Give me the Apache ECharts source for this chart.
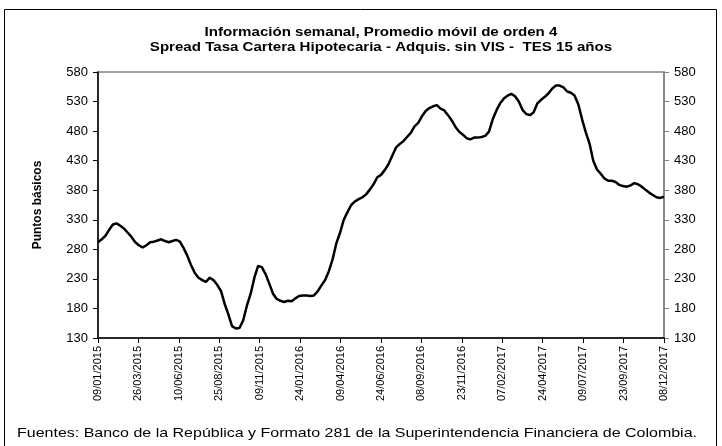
<!DOCTYPE html>
<html>
<head>
<meta charset="utf-8">
<script src="https://cdn.jsdelivr.net/npm/echarts@6/dist/echarts.min.js"></script>
<style>
  html, body { margin: 0; padding: 0; background: #fff; }
  #chart { width: 722px; height: 446px; }
</style>
</head>
<body>
<div id="chart"></div>
<script>
// --- datos (semanales desde 09/01/2015) ---
const startDate = '09/01/2015';
const tickLabels = [
  '09/01/2015', '26/03/2015', '10/06/2015', '25/08/2015', '09/11/2015',
  '24/01/2016', '09/04/2016', '24/06/2016', '08/09/2016', '23/11/2016',
  '07/02/2017', '24/04/2017', '09/07/2017', '23/09/2017', '08/12/2017'
];
const tickStepDays = 76;
const yTicks = [130, 180, 230, 280, 330, 380, 430, 480, 530, 580];

// spread promedio móvil de orden 4 (puntos básicos), una cifra por semana
const spread = [
  292, 297, 303, 313, 322, 324, 320, 315, 308, 301,
  292, 287, 283, 287, 292, 293, 295, 297, 294, 292,
  294, 296, 293, 282, 269, 253, 240, 232, 228, 225,
  232, 228, 220, 210, 188, 170, 150, 146, 147, 160,
  185, 205, 232, 252, 250, 238, 222, 205, 196, 193,
  191, 193, 192, 197, 201, 202, 202, 201, 202, 209,
  219, 228, 243, 263, 290, 308, 330, 343, 355, 361,
  365, 368, 373, 381, 390, 402, 406, 414, 424, 438,
  452, 458, 463, 470, 477, 488, 494, 505, 514, 519,
  522, 524, 518, 515, 507, 498, 487, 479, 474, 468,
  466, 469, 469, 470, 472, 479, 500, 515, 527, 535,
  540, 543, 539, 530, 516, 509, 507, 512, 527, 533,
  538, 544, 552, 557, 557, 554, 547, 545, 540, 525,
  500, 478, 459, 430, 415, 408, 400, 396, 396, 394,
  389, 387, 386, 388, 392, 390, 386, 381, 376, 372,
  368, 367, 369
];

// x en días desde la fecha inicial
const seriesData = spread.map((v, i) => [i * 7, v]);
const lastDay = tickStepDays * (tickLabels.length - 1);

const chart = echarts.init(document.getElementById('chart'));

const yAxisBase = {
  type: 'value',
  min: yTicks[0],
  max: yTicks[yTicks.length - 1],
  interval: 50,
  splitLine: { show: false },
  axisLabel: { color: '#000', fontFamily: 'Arial', fontSize: 13, margin: 10 }
};

chart.setOption({
  animation: false,
  backgroundColor: '#fff',
  grid: {
    left: 98, right: 58, top: 72, bottom: 108,
    show: true, borderColor: '#808080', borderWidth: 1.5
  },
  xAxis: {
    type: 'value',
    min: 0,
    max: lastDay,
    interval: tickStepDays,
    splitLine: { show: false },
    axisLine: { lineStyle: { color: '#000', width: 1.5 } },
    axisTick: { length: 5, lineStyle: { color: '#000' } },
    axisLabel: {
      rotate: 90,
      color: '#000',
      fontFamily: 'Arial',
      fontSize: 11,
      margin: 8,
      formatter: (v) => tickLabels[Math.round(v / tickStepDays)] || ''
    }
  },
  yAxis: [
    Object.assign({}, yAxisBase, {
      position: 'left',
      name: 'Puntos básicos',
      nameLocation: 'middle',
      nameGap: 54,
      nameTextStyle: { color: '#000', fontFamily: 'Arial', fontWeight: 'bold', fontSize: 12 },
      axisLine: { show: true, lineStyle: { color: '#000', width: 1.5 } },
      axisTick: { show: true, length: 5, lineStyle: { color: '#000' } }
    }),
    Object.assign({}, yAxisBase, {
      position: 'right',
      axisLine: { show: true, lineStyle: { color: '#808080', width: 1.5 } },
      axisTick: { show: true, length: 5, lineStyle: { color: '#808080' } }
    })
  ],
  series: [{
    type: 'line',
    name: 'Spread',
    data: seriesData,
    yAxisIndex: 0,
    showSymbol: false,
    lineStyle: { color: '#000', width: 2.5 },
    z: 3
  }],
  graphic: [
    {
      type: 'rect',
      shape: { x: 4.5, y: 9.5, width: 712, height: 460 },
      style: { fill: 'none', stroke: '#000', lineWidth: 1 },
      silent: true
    },
    {
      // el original está estirado en horizontal
      type: 'text',
      x: 381, y: 32, scaleX: 1.16,
      style: {
        text: 'Información semanal, Promedio móvil de orden 4',
        font: 'bold 13px Arial', fill: '#000',
        textAlign: 'center', textVerticalAlign: 'middle'
      }
    },
    {
      type: 'text',
      x: 381, y: 47, scaleX: 1.16,
      style: {
        text: 'Spread Tasa Cartera Hipotecaria - Adquis. sin VIS -  TES 15 años',
        font: 'bold 13px Arial', fill: '#000',
        textAlign: 'center', textVerticalAlign: 'middle'
      }
    },
    {
      type: 'text',
      x: 17, y: 433, scaleX: 1.23,
      style: {
        text: 'Fuentes: Banco de la República y Formato 281 de la Superintendencia Financiera de Colombia.',
        font: '13px Arial', fill: '#000',
        textAlign: 'left', textVerticalAlign: 'middle'
      }
    }
  ]
});
</script>
</body>
</html>
